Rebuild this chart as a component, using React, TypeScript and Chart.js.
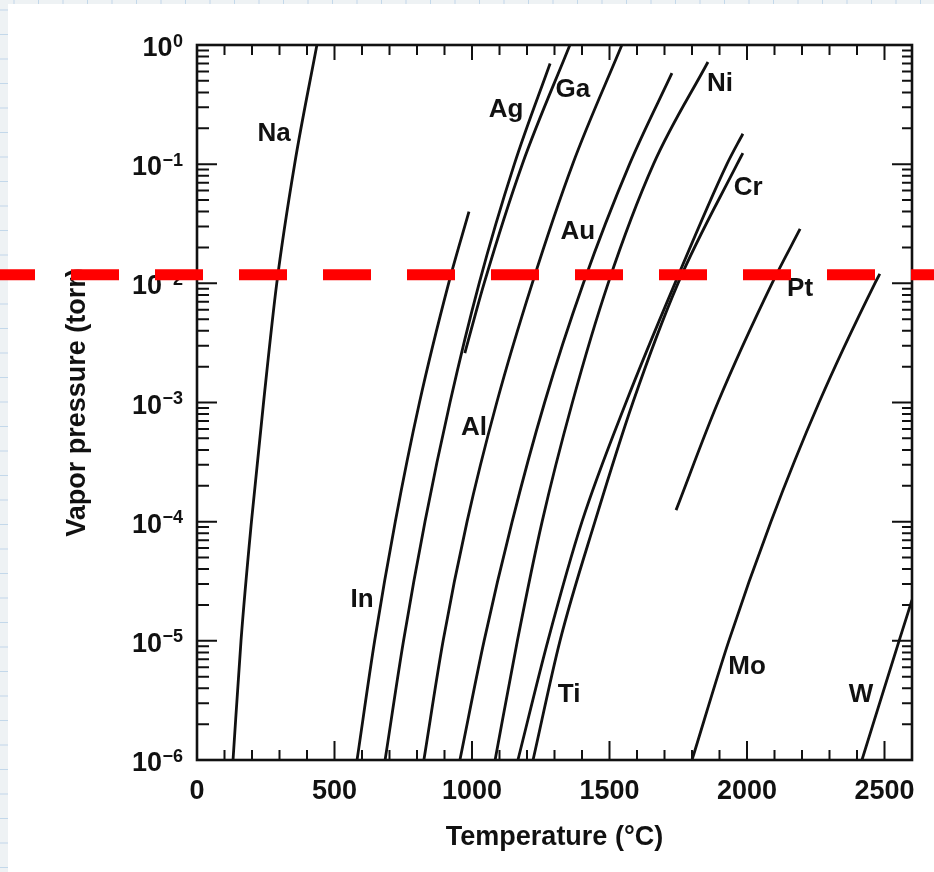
import React, { useEffect, useRef } from "react";
import { Chart, registerables } from "chart.js";

Chart.register(...registerables);

const CANVAS_W = 934;
const CANVAS_H = 872;
const FONT = "'Liberation Sans', Arial, Helvetica, sans-serif";
const INK = "#111111";

// Temperatures in °C, vapor pressures in torr
const naTemp = [131, 160, 198, 242, 290, 355, 436];
const naPres = [1e-6, 1e-5, 1e-4, 1e-3, 1e-2, 1e-1, 1];

const inTemp = [582, 646, 721, 809, 915, 989];
const inPres = [1e-6, 1e-5, 1e-4, 1e-3, 1e-2, 0.04];

const agTemp = [684, 751, 829, 920, 1026, 1154, 1284];
const agPres = [1e-6, 1e-5, 1e-4, 1e-3, 1e-2, 1e-1, 0.7];

const gaTemp = [974, 1044, 1183, 1356];
const gaPres = [2.6e-3, 1e-2, 1e-1, 1];

const alTemp = [825, 895, 982, 1090, 1219, 1366, 1545];
const alPres = [1e-6, 1e-5, 1e-4, 1e-3, 1e-2, 1e-1, 1];

const auTemp = [956, 1044, 1146, 1264, 1405, 1573, 1727];
const auPres = [1e-6, 1e-5, 1e-4, 1e-3, 1e-2, 1e-1, 0.58];

const niTemp = [1084, 1165, 1255, 1365, 1495, 1660, 1858];
const niPres = [1e-6, 1e-5, 1e-4, 1e-3, 1e-2, 1e-1, 0.72];

const crTemp = [1167, 1276, 1400, 1560, 1738, 1927, 1985];
const crPres = [1e-6, 1e-5, 1e-4, 1e-3, 1e-2, 1e-1, 0.18];

const tiTemp = [1222, 1320, 1447, 1585, 1749, 1964, 1985];
const tiPres = [1e-6, 1e-5, 1e-4, 1e-3, 1e-2, 1e-1, 0.124];

const ptTemp = [1742, 1894, 2091, 2193];
const ptPres = [1.25e-4, 1e-3, 1e-2, 0.0286];

const moTemp = [1800, 1934, 2087, 2262, 2465, 2483];
const moPres = [1e-6, 1e-5, 1e-4, 1e-3, 1e-2, 0.012];

const wTemp = [2418, 2553, 2600];
const wPres = [1e-6, 1e-5, 2.2e-5];

// Curve labels
const labelNames = ["Na", "Ag", "Ga", "Au", "Ni", "Cr", "Pt", "Al", "In", "Ti", "Mo", "W"];
const labelTemp = [280, 1124, 1367, 1385, 1902, 2004, 2193, 1007, 600, 1353, 2000, 2415];
const labelPres = [0.179, 0.285, 0.419, 0.027, 0.475, 0.063, 0.009, 6.1e-4, 2.2e-5, 3.5e-6, 6.0e-6, 3.5e-6];

// Axes
const xTickLabels = [0, 500, 1000, 1500, 2000, 2500];
const xMin = 0;
const xMax = 2600;
const yDecadeExponents = [-6, -5, -4, -3, -2, -1, 0];
const yMin = 1e-6;
const yMax = 1;

// Red dashed marker level (torr)
const markerPressure = 0.0118;

const series = [
  { name: "Na", t: naTemp, p: naPres },
  { name: "In", t: inTemp, p: inPres },
  { name: "Ag", t: agTemp, p: agPres },
  { name: "Ga", t: gaTemp, p: gaPres },
  { name: "Al", t: alTemp, p: alPres },
  { name: "Au", t: auTemp, p: auPres },
  { name: "Ni", t: niTemp, p: niPres },
  { name: "Cr", t: crTemp, p: crPres },
  { name: "Ti", t: tiTemp, p: tiPres },
  { name: "Pt", t: ptTemp, p: ptPres },
  { name: "Mo", t: moTemp, p: moPres },
  { name: "W", t: wTemp, p: wPres },
];

const backgroundPlugin = {
  id: "paperBackground",
  beforeDraw(chart: any) {
    const ctx = chart.ctx;
    ctx.save();
    ctx.fillStyle = "#eef2f4";
    ctx.fillRect(0, 0, CANVAS_W, CANVAS_H);
    ctx.strokeStyle = "rgba(160,195,225,0.55)";
    ctx.lineWidth = 1;
    for (let g = 10; g < CANVAS_H; g += 24.5) {
      ctx.beginPath();
      ctx.moveTo(0, g);
      ctx.lineTo(CANVAS_W, g);
      ctx.stroke();
    }
    for (let g = 14; g < CANVAS_W; g += 24.5) {
      ctx.beginPath();
      ctx.moveTo(g, 0);
      ctx.lineTo(g, CANVAS_H);
      ctx.stroke();
    }
    ctx.fillStyle = "#ffffff";
    ctx.fillRect(8, 4, CANVAS_W - 8, CANVAS_H - 4);
    ctx.restore();
  },
};

const framePlugin = {
  id: "frameTicks",
  afterDatasetsDraw(chart: any) {
    const { ctx, chartArea, scales } = chart;
    const xs = scales.x;
    const ys = scales.y;
    const { left, right, top, bottom } = chartArea;
    ctx.save();
    ctx.strokeStyle = INK;
    ctx.lineCap = "butt";
    // inward ticks on x (bottom and top)
    ctx.lineWidth = 2;
    for (let v = xMin + 100; v < xMax; v += 100) {
      const px = xs.getPixelForValue(v);
      const major = v % 500 === 0;
      ctx.beginPath();
      ctx.moveTo(px, bottom);
      ctx.lineTo(px, bottom - (major ? 19 : 10));
      ctx.moveTo(px, top);
      ctx.lineTo(px, top + (major ? 15 : 10));
      ctx.stroke();
    }
    // inward ticks on y (left and right)
    for (const e of yDecadeExponents) {
      const py = ys.getPixelForValue(Math.pow(10, e));
      ctx.beginPath();
      ctx.moveTo(left, py);
      ctx.lineTo(left + 20, py);
      ctx.moveTo(right, py);
      ctx.lineTo(right - 20, py);
      ctx.stroke();
      if (e < 0) {
        for (let m = 2; m <= 9; m++) {
          const pm = ys.getPixelForValue(m * Math.pow(10, e));
          ctx.beginPath();
          ctx.moveTo(left, pm);
          ctx.lineTo(left + 12, pm);
          ctx.moveTo(right, pm);
          ctx.lineTo(right - 10, pm);
          ctx.stroke();
        }
      }
    }
    // frame
    ctx.lineWidth = 2.6;
    ctx.strokeRect(left, top, right - left, bottom - top);

    // y tick labels (10 with superscript exponent)
    ctx.fillStyle = INK;
    ctx.textAlign = "right";
    ctx.textBaseline = "alphabetic";
    const labelRight = 183;
    for (const e of yDecadeExponents) {
      const py = ys.getPixelForValue(Math.pow(10, e));
      const expText = e === 0 ? "0" : "\u2212" + String(-e);
      ctx.font = `bold 18px ${FONT}`;
      const expW = ctx.measureText(expText).width;
      ctx.fillText(expText, labelRight, py + 1.5);
      ctx.font = `bold 27px ${FONT}`;
      ctx.fillText("10", labelRight - expW - 0.5, py + 11);
    }

    // curve labels
    ctx.font = `bold 26px ${FONT}`;
    ctx.textAlign = "center";
    ctx.textBaseline = "middle";
    labelNames.forEach((name, i) => {
      const px = xs.getPixelForValue(labelTemp[i]);
      const py = ys.getPixelForValue(labelPres[i]);
      ctx.fillText(name, px, py);
    });
    ctx.restore();
  },
  afterDraw(chart: any) {
    const { ctx, scales } = chart;
    const py = scales.y.getPixelForValue(markerPressure);
    ctx.save();
    ctx.strokeStyle = "#ff0000";
    ctx.lineWidth = 11;
    ctx.setLineDash([48, 36]);
    ctx.lineDashOffset = 13;
    ctx.beginPath();
    ctx.moveTo(0, py);
    ctx.lineTo(CANVAS_W, py);
    ctx.stroke();
    ctx.restore();
  },
};

export default function App() {
  const canvasRef = useRef<HTMLCanvasElement | null>(null);

  useEffect(() => {
    const canvas = canvasRef.current;
    if (!canvas) return;
    const datasets = series.map((s) => ({
      label: s.name,
      data: s.t.map((t, i) => ({ x: t, y: s.p[i] })),
      borderColor: INK,
      backgroundColor: INK,
      borderWidth: 2.8,
      pointRadius: 0,
      pointHoverRadius: 0,
      fill: false,
      cubicInterpolationMode: "monotone" as const,
    }));

    const chart = new Chart(canvas, {
      type: "line",
      data: { datasets },
      options: {
        animation: false,
        responsive: false,
        events: [],
        layout: { padding: { top: 45, right: 22, bottom: 0, left: 0 } },
        plugins: {
          legend: { display: false },
          tooltip: { enabled: false },
        },
        scales: {
          x: {
            type: "linear",
            position: "bottom",
            min: xMin,
            max: xMax,
            afterBuildTicks: (scale: any) => {
              scale.ticks = xTickLabels.map((v) => ({ value: v }));
            },
            afterFit: (scale: any) => {
              scale.height = 112;
            },
            grid: { display: false, drawTicks: false },
            border: { display: false },
            ticks: {
              autoSkip: false,
              maxRotation: 0,
              padding: 15,
              color: INK,
              font: { family: FONT, size: 27, weight: "bold" },
              callback: (v: any) => String(v),
            },
            title: {
              display: true,
              text: "Temperature (°C)",
              color: INK,
              font: { family: FONT, size: 27, weight: "bold" },
              padding: { top: 0, bottom: 18 },
            },
          },
          y: {
            type: "logarithmic",
            position: "left",
            min: yMin,
            max: yMax,
            afterFit: (scale: any) => {
              scale.width = 197;
            },
            grid: { display: false, drawTicks: false },
            border: { display: false },
            ticks: { display: false },
            title: {
              display: true,
              text: "Vapor pressure (torr)",
              color: INK,
              font: { family: FONT, size: 27, weight: "bold" },
              padding: { top: 61, bottom: 0 },
            },
          },
        },
      },
      plugins: [backgroundPlugin, framePlugin],
    });
    return () => chart.destroy();
  }, []);

  return (
    <div style={{ position: "absolute", left: 0, top: 0, width: CANVAS_W, height: CANVAS_H }}>
      <canvas ref={canvasRef} width={CANVAS_W} height={CANVAS_H} style={{ display: "block" }} />
    </div>
  );
}
